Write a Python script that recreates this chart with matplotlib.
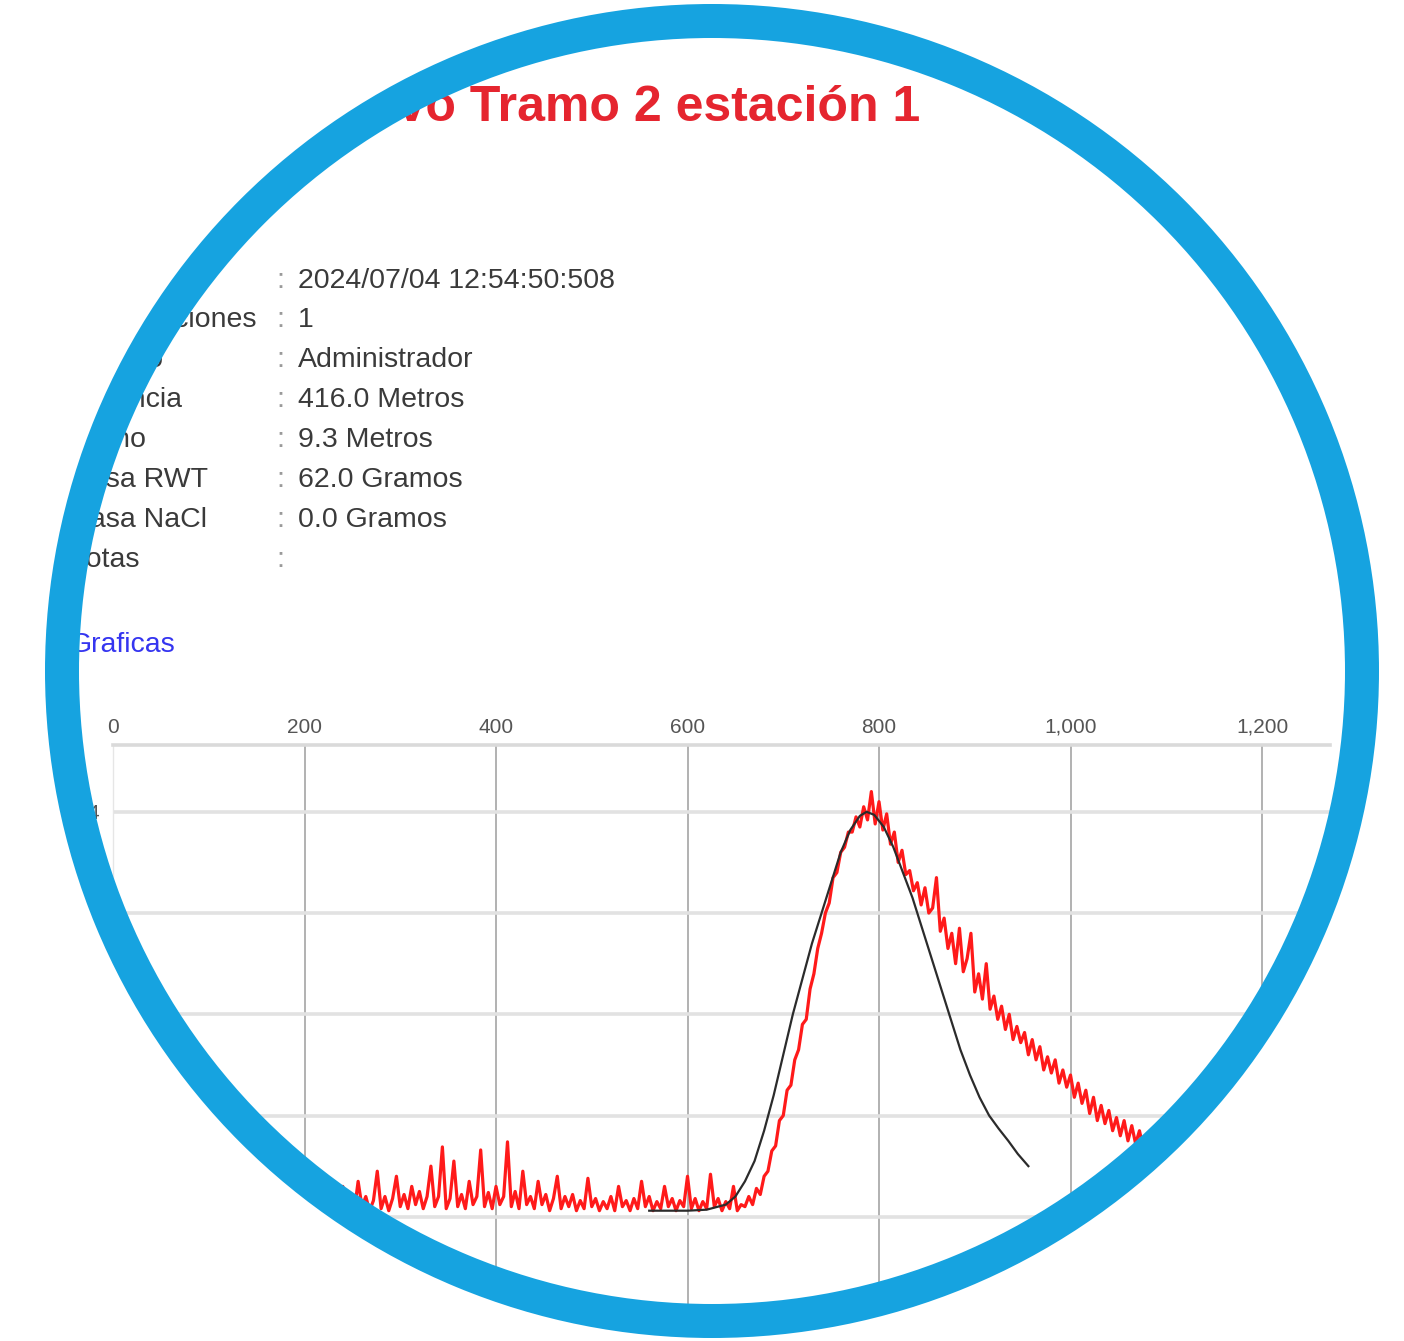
import numpy as np
import matplotlib
matplotlib.use("Agg")
import matplotlib.pyplot as plt
from matplotlib.patches import Wedge

# ---------------- data ----------------
title_text = "Nuevo Tramo 2 estación 1"
info_labels = ["Fecha", "N° Inyecciones", "Usuario", "Distancia", "Ancho",
               "Masa RWT", "Masa NaCl", "Notas"]
info_values = ["2024/07/04 12:54:50:508", "1", "Administrador", "416.0 Metros",
               "9.3 Metros", "62.0 Gramos", "0.0 Gramos", ""]
link_text = "Graficas"

x_ticks = [0, 200, 400, 600, 800, 1000, 1200]
x_tick_labels = ["0", "200", "400", "600", "800", "1,000", "1,200"]
y_ticks = [0, 1, 2, 3, 4]
y_tick_labels = ["0", "1", "2", "3", "4"]

# measured (red) series, sampled every 4 units from 236
red_start, red_step = 236, 4
red_y = [
    0.06, 0.30, 0.08, 0.18, 0.06, 0.35, 0.10, 0.20, 0.06, 0.16,
    0.45, 0.08, 0.20, 0.06, 0.18, 0.40, 0.10, 0.22, 0.08, 0.30,
    0.12, 0.25, 0.08, 0.20, 0.50, 0.10, 0.20, 0.69, 0.08, 0.18,
    0.55, 0.10, 0.22, 0.08, 0.35, 0.12, 0.20, 0.66, 0.10, 0.24,
    0.08, 0.30, 0.12, 0.20, 0.74, 0.10, 0.25, 0.08, 0.45, 0.12,
    0.20, 0.08, 0.35, 0.12, 0.22, 0.06, 0.18, 0.40, 0.08, 0.20,
    0.10, 0.22, 0.06, 0.16, 0.08, 0.38, 0.10, 0.18, 0.06, 0.15,
    0.08, 0.20, 0.06, 0.30, 0.10, 0.16, 0.06, 0.18, 0.08, 0.35,
    0.10, 0.20, 0.06, 0.15, 0.08, 0.30, 0.10, 0.18, 0.06, 0.16,
    0.10, 0.40, 0.08, 0.18, 0.06, 0.15, 0.08, 0.42, 0.10, 0.18,
    0.06, 0.15, 0.08, 0.30, 0.06, 0.12,
    0.10, 0.20, 0.12, 0.28, 0.22, 0.40, 0.45, 0.65, 0.70, 0.95,
    1.00, 1.25, 1.30, 1.55, 1.65, 1.90, 1.95, 2.25, 2.40, 2.65,
    2.80, 3.00, 3.10, 3.35, 3.40, 3.60, 3.65, 3.80, 3.80, 3.95,
    3.85, 4.05, 3.92, 4.20, 3.88, 4.10, 3.82, 3.98, 3.68, 3.80,
    3.50, 3.62, 3.38, 3.42, 3.22, 3.30, 3.08, 3.25, 3.00, 3.05,
    3.35, 2.82, 2.95, 2.65, 2.80, 2.50, 2.85, 2.42, 2.55, 2.80,
    2.22, 2.40, 2.15, 2.50, 2.05, 2.18, 1.95, 2.08, 1.85, 2.00,
    1.75, 1.88, 1.72, 1.82, 1.60, 1.75, 1.55, 1.68, 1.45, 1.58,
    1.42, 1.55, 1.32, 1.45, 1.28, 1.40, 1.18, 1.32, 1.12, 1.25,
    1.02, 1.18, 0.95, 1.10, 0.92, 1.05, 0.85, 0.98, 0.80, 0.95,
    0.75, 0.90, 0.72, 0.85, 0.68, 0.82, 0.65, 0.78, 0.62,
]
red_x = red_start + red_step * np.arange(len(red_y))

# fitted (black) curve
black_x = [560, 600, 620, 640, 650, 660, 670, 680, 690, 700, 710, 720, 730,
           740, 750, 760, 770, 780, 787, 795, 805, 815, 825, 835, 845, 855,
           865, 875, 885, 895, 905, 915, 925, 935, 945, 956]
black_y = [0.06, 0.06, 0.07, 0.12, 0.20, 0.35, 0.55, 0.85, 1.20, 1.60, 2.00,
           2.35, 2.70, 3.00, 3.30, 3.60, 3.82, 3.96, 4.00, 3.97, 3.85, 3.65,
           3.40, 3.15, 2.85, 2.55, 2.25, 1.95, 1.65, 1.40, 1.18, 1.00, 0.87,
           0.75, 0.62, 0.50]

# ---------------- figure ----------------
W, H = 1404, 1341
fig = plt.figure(figsize=(W / 100, H / 100), dpi=100)
fig.patch.set_facecolor("white")

FONT = ["Liberation Sans", "DejaVu Sans"]

# background text layer in pixel coordinates
bg = fig.add_axes([0, 0, 1, 1], zorder=0)
bg.set_xlim(0, W)
bg.set_ylim(H, 0)
bg.axis("off")

bg.text(920, 108, title_text, ha="right", va="center", fontsize=36,
        fontweight="bold", color="#e5252f", family=FONT)

row_y = [281, 320, 360, 400, 440, 480, 520, 560]
for yy, lab, val in zip(row_y, info_labels, info_values):
    bg.text(66, yy, lab, ha="left", va="center", fontsize=20.5,
            color="#3a3a3a", family=FONT)
    bg.text(280, yy, ":", ha="center", va="center", fontsize=20.5,
            color="#9a9a9a", family=FONT)
    bg.text(298, yy, val, ha="left", va="center", fontsize=20.5,
            color="#3a3a3a", family=FONT)
bg.text(70, 645, link_text, ha="left", va="center", fontsize=20.5,
        color="#3535f0", family=FONT)

# chart axes
left_px, right_px, top_px, bot_px = 113, 1330, 745, 1318
ax = fig.add_axes([left_px / W, (H - bot_px) / H, (right_px - left_px) / W,
                   (bot_px - top_px) / H], zorder=1)
ax.set_facecolor("none")
ax.set_xlim(0, 1271)
ax.set_ylim(-1.0, 4.66)
ax.xaxis.tick_top()
ax.set_xticks(x_ticks)
ax.set_xticklabels(x_tick_labels, family=FONT)
ax.set_yticks(y_ticks)
ax.set_yticklabels(y_tick_labels, family=FONT)
ax.tick_params(axis="x", length=0, pad=6, labelsize=15, labelcolor="#555555")
ax.tick_params(axis="y", length=0, pad=10, labelsize=15, labelcolor="#555555")
ax.set_axisbelow(True)
ax.xaxis.grid(True, color="#9c9c9c", linewidth=1.1)
ax.yaxis.grid(True, color="#e2e2e2", linewidth=2.6)
ax.get_xgridlines()[0].set_color("#e6e6e6")
for side in ["right", "bottom"]:
    ax.spines[side].set_visible(False)
ax.spines["top"].set_color("#dadada")
ax.spines["top"].set_linewidth(2.6)
ax.spines["left"].set_color("#e6e6e6")
ax.spines["left"].set_linewidth(1.0)

ax.plot(red_x, red_y, color="#ff1a1a", linewidth=2.3, zorder=3)
ax.plot(black_x, black_y, color="#2b2b2b", linewidth=1.6, zorder=4)

# circular mask and blue ring
mk = fig.add_axes([0, 0, 1, 1], zorder=5)
mk.set_xlim(0, W)
mk.set_ylim(H, 0)
mk.axis("off")
mk.set_facecolor("none")
cx, cy = 712, 671
r_out, ring_w = 667, 34
mk.add_patch(Wedge((cx, cy), 1400, 0, 360, width=1400 - (r_out - ring_w / 2),
                   facecolor="white", edgecolor="none"))
mk.add_patch(Wedge((cx, cy), r_out, 0, 360, width=ring_w,
                   facecolor="#16a3e0", edgecolor="none"))

fig.savefig("out.png", dpi=100, facecolor="white")
